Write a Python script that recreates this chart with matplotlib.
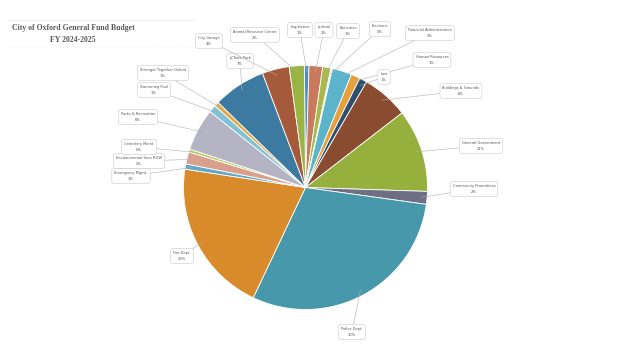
import numpy as np
import matplotlib
matplotlib.use("Agg")
import matplotlib.pyplot as plt

# General fund budget shares (percent), clockwise from the top
departments = [
    "Legislative", "Judicial", "Executive", "Elections",
    "Financial Administration", "Human Resources", "Law",
    "Buildings & Grounds", "General Government", "Community Promotions",
    "Police Dept.", "Fire Dept.", "Emergency Mgmt.", "Environmental Svcs ROW",
    "Cemetery Maint.", "Parks & Recreation", "Swimming Pool",
    "Stronger Together Oxford", "Jo'Tada Park", "City Garage",
    "Animal Resource Center",
]
shares = [0.6, 1.8, 1.1, 0.2, 2.6, 1.2, 1.0, 6.2, 11.0, 1.7,
          29.9, 20.4, 0.7, 1.6, 0.4, 5.6, 1.0, 0.6, 7.0, 3.6, 2.0]

colors = ["#4a8fc0", "#c77a5c", "#a9b94c", "#d9d9d9",
          "#5bb3cc", "#e6a03a", "#2e4f6e",
          "#8a4c31", "#96b03e", "#6e6e84",
          "#4798ab", "#d98b2b", "#5ea9c9", "#d9a08e",
          "#bccb62", "#b4b4c4", "#7fc1d8",
          "#e8a840", "#3d7aa1", "#a65a3c",
          "#9ab443"]

# label box centres in pixels (x from left, y from top)
label_pos = [(300, 30), (324, 30), (348, 31), (380, 29),
             (430, 33), (432, 60), (384, 77),
             (461, 91), (481, 146), (474, 189),
             (352, 332), (182, 256), (131, 176), (139, 161),
             (139, 147), (138, 117), (154, 90),
             (163, 73), (240, 61), (209, 41),
             (255, 35)]

W, H = 621, 352
cx, cy, r = 305.5, H - 187.5, 122

fig = plt.figure(figsize=(W / 100, H / 100), dpi=100)
ax = fig.add_axes([0, 0, 1, 1])

wedges, _ = ax.pie(shares, colors=colors, startangle=90.5, counterclock=False,
                   center=(cx, cy), radius=r, frame=True,
                   wedgeprops=dict(edgecolor="white", linewidth=0.6))
ax.set_xlim(0, W)
ax.set_ylim(0, H)
ax.set_aspect("equal")
ax.axis("off")

total = sum(shares)
for w, name, v, (lx, ly) in zip(wedges, departments, shares, label_pos):
    ang = np.deg2rad((w.theta1 + w.theta2) / 2)
    px = cx + r * 0.95 * np.cos(ang)
    py = cy + r * 0.95 * np.sin(ang)
    ax.annotate(f"{name}\n{v / total * 100:.0f}%", xy=(px, py),
                xytext=(lx, H - ly), ha="center", va="center",
                fontsize=2.6, color="#555555", linespacing=1.5,
                bbox=dict(boxstyle="round,pad=0.7,rounding_size=0.6",
                          fc="white", ec="#c8c8c8", lw=0.4),
                arrowprops=dict(arrowstyle="-", color="#b0b0b0", lw=0.4,
                                shrinkA=0, shrinkB=0))

# title block
ax.text(73, H - 28, "City of Oxford General Fund Budget", ha="center",
        va="center", fontsize=5.6, fontweight="bold", color="#5a5a5a",
        family="Liberation Serif")
ax.text(73, H - 40, "FY 2024-2025", ha="center", va="center",
        fontsize=5.6, fontweight="bold", color="#5a5a5a",
        family="Liberation Serif")
ax.plot([8, 195], [H - 20, H - 20], color="#eeeeee", lw=0.5)
ax.plot([8, 195], [H - 47, H - 47], color="#eeeeee", lw=0.5, ls=":")

fig.savefig("out.png", dpi=100, facecolor="white")
